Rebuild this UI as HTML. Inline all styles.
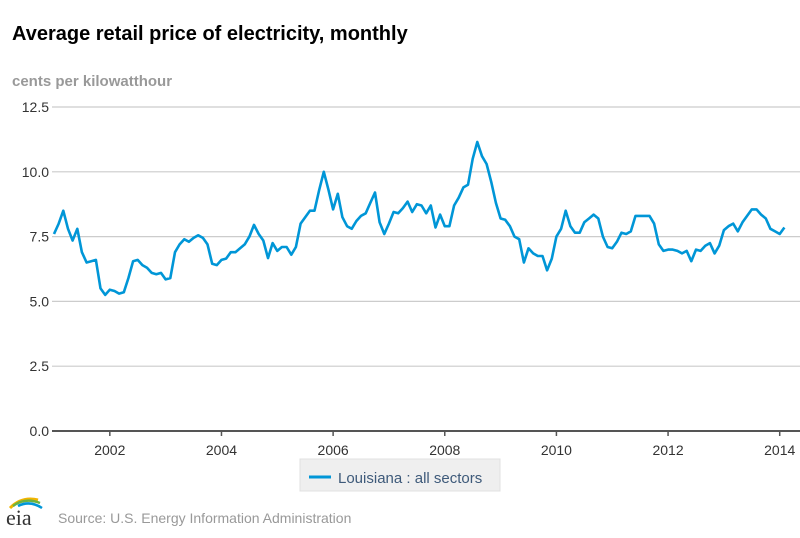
<!DOCTYPE html>
<html><head><meta charset="utf-8"><style>
body{margin:0;background:#fff;width:800px;height:533px;overflow:hidden;font-family:"Liberation Sans",sans-serif}
</style></head><body>
<svg width="800" height="533" xmlns="http://www.w3.org/2000/svg">
<text x="12" y="40" font-size="20" font-weight="bold" fill="#000">Average retail price of electricity, monthly</text>
<text x="12" y="86" font-size="15" font-weight="bold" fill="#999">cents per kilowatthour</text>
<g id="grid"></g>
<g id="xaxis"></g>
<path id="series" fill="none" stroke="#0096d7" stroke-width="2.6" stroke-linejoin="round"/>
<g>
<rect x="300" y="459" width="200" height="32" fill="#efefef" stroke="#e0e0e0"/>
<line x1="309" y1="477" x2="331" y2="477" stroke="#0096d7" stroke-width="3"/>
<text x="338" y="483" font-size="15" fill="#3e5a7a">Louisiana : all sectors</text>
</g>
<g>
<path d="M10 508 Q22 496 38 500" stroke="#f2b400" stroke-width="3" fill="none"/>
<path d="M13 506 Q25 497 40 503" stroke="#6db33f" stroke-width="2.5" fill="none"/>
<path d="M18 506 Q30 500 42 508" stroke="#0096d7" stroke-width="2.5" fill="none"/>
<text x="6" y="525" font-family="Liberation Serif,serif" font-size="22" fill="#333">eia</text>
</g>
<text x="58" y="523" font-size="14" fill="#999">Source: U.S. Energy Information Administration</text>
</svg>
<script>
const yTicks=[0,2.5,5,7.5,10,12.5];
const yTickLabels=["0.0","2.5","5.0","7.5","10.0","12.5"];
const xYears=[2002,2004,2006,2008,2010,2012,2014];
const startYear=2001;
const prices=[7.6,8.0,8.5,7.8,7.35,7.8,6.9,6.5,6.55,6.6,5.5,5.25,
5.45,5.4,5.3,5.35,5.9,6.55,6.6,6.4,6.3,6.1,6.05,6.1,
5.85,5.9,6.9,7.2,7.4,7.3,7.45,7.55,7.45,7.2,6.45,6.4,
6.6,6.65,6.9,6.9,7.05,7.2,7.5,7.95,7.6,7.35,6.67,7.25,
6.95,7.1,7.1,6.8,7.1,8.0,8.25,8.5,8.5,9.3,10.0,9.3,
8.55,9.15,8.25,7.9,7.8,8.1,8.3,8.4,8.8,9.2,8.05,7.6,
8.0,8.45,8.4,8.6,8.85,8.45,8.75,8.7,8.4,8.7,7.85,8.35,
7.9,7.9,8.7,9.0,9.4,9.5,10.5,11.15,10.6,10.3,9.6,8.8,
8.2,8.15,7.9,7.5,7.4,6.5,7.05,6.85,6.75,6.75,6.2,6.65,
7.5,7.8,8.5,7.9,7.65,7.65,8.05,8.2,8.35,8.2,7.5,7.1,
7.05,7.3,7.65,7.6,7.7,8.3,8.3,8.3,8.3,8.0,7.2,6.95,
7.0,7.0,6.95,6.85,6.95,6.55,7.0,6.95,7.15,7.25,6.85,7.15,
7.75,7.9,8.0,7.7,8.05,8.3,8.55,8.55,8.35,8.2,7.8,7.7,
7.6,7.85];
const NS="http://www.w3.org/2000/svg";
const x0=54, pxPerMonth=4.652, yBase=431, pxPerUnit=25.92;
const xs=i=>x0+pxPerMonth*i;
const xYear=yr=>x0+pxPerMonth*12*(yr-startYear);
const ys=v=>yBase-pxPerUnit*v;
const grid=document.getElementById('grid');
yTicks.forEach((t,k)=>{
 const l=document.createElementNS(NS,'line');
 
 
 l.setAttribute('x1',52);l.setAttribute('x2',800);
 l.setAttribute('y1',ys(t));l.setAttribute('y2',ys(t));
 l.setAttribute('stroke',t===0?'#555':'#ccc');l.setAttribute('stroke-width',t===0?2:1.2);
 grid.appendChild(l);
 const tx=document.createElementNS(NS,'text');
 
 
 tx.setAttribute('x',49);tx.setAttribute('y',ys(t)+5);
 tx.setAttribute('text-anchor','end');tx.setAttribute('font-size','14');tx.setAttribute('fill','#333');
 tx.textContent=yTickLabels[k];grid.appendChild(tx);
});
const xa=document.getElementById('xaxis');
xYears.forEach(yr=>{
 const x=xYear(yr);
 const l=document.createElementNS(NS,'line');
 
 
 l.setAttribute('x1',x);l.setAttribute('x2',x);l.setAttribute('y1',431);l.setAttribute('y2',436);
 l.setAttribute('stroke','#555');l.setAttribute('stroke-width',1.5);xa.appendChild(l);
 const tx=document.createElementNS(NS,'text');
 
 
 tx.setAttribute('x',x);tx.setAttribute('y',455);tx.setAttribute('text-anchor','middle');
 tx.setAttribute('font-size','14');tx.setAttribute('fill','#333');tx.textContent=yr;xa.appendChild(tx);
});
document.getElementById('series').setAttribute('d',prices.map((v,i)=>(i?'L':'M')+xs(i).toFixed(1)+' '+ys(v).toFixed(1)).join(' '));
</script>
</body></html>
